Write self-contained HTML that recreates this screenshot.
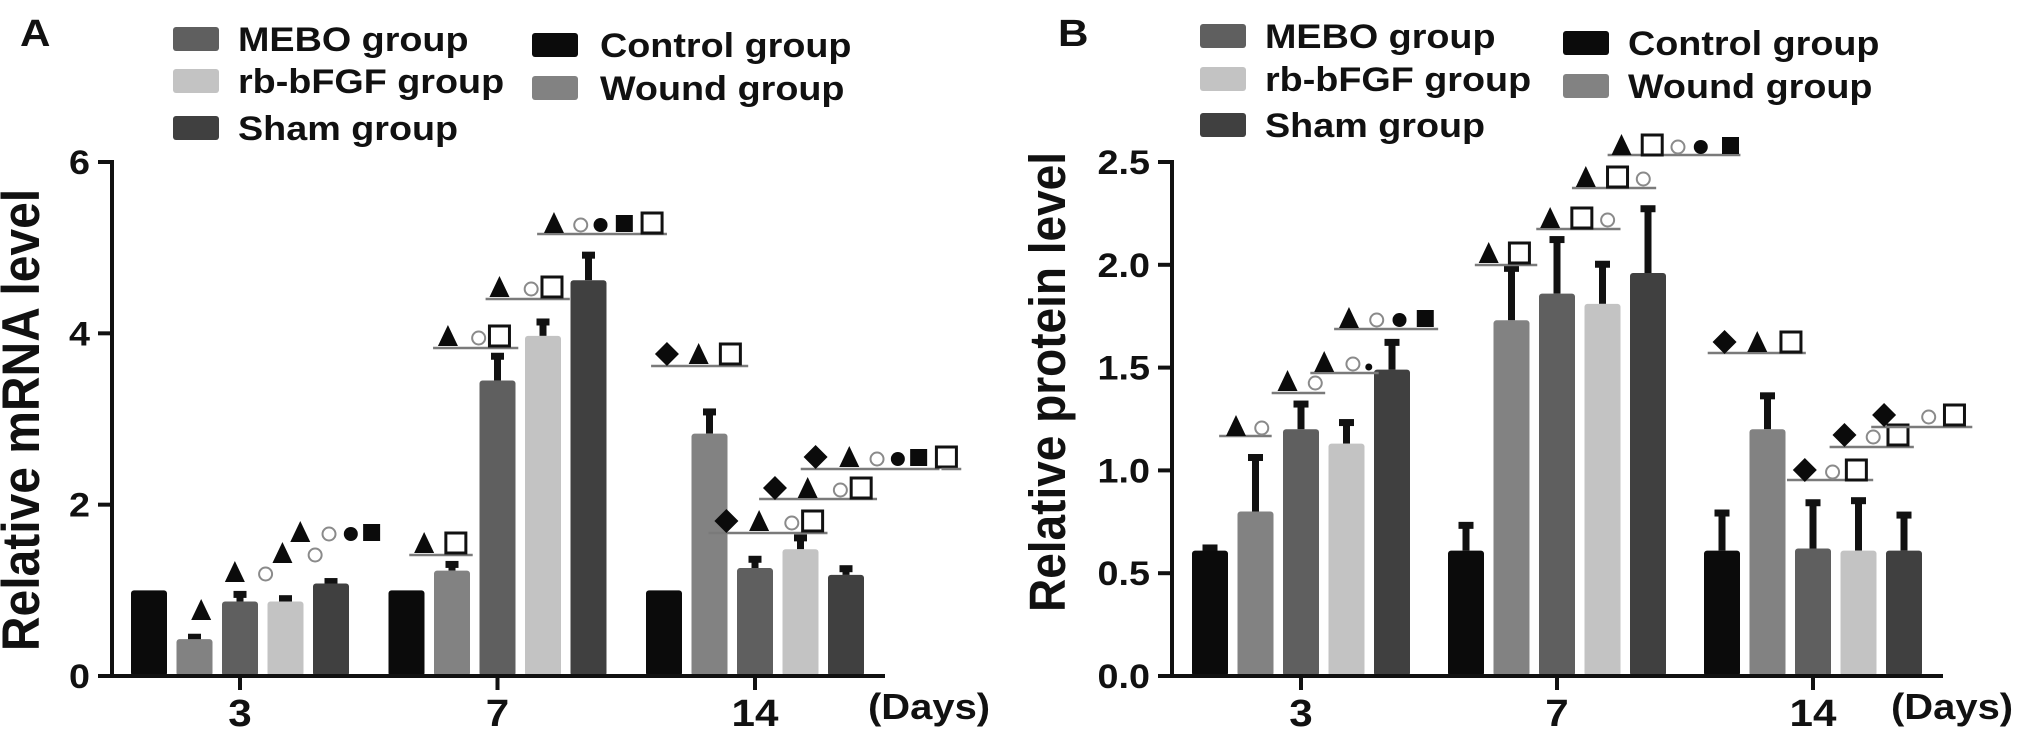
<!DOCTYPE html>
<html><head><meta charset="utf-8"><style>
html,body{margin:0;padding:0;background:#fff;}
svg{display:block;font-family:"Liberation Sans",Arial,sans-serif;font-weight:bold;}
</style></head><body>
<svg id="fig" width="2031" height="748" viewBox="0 0 2031 748" xmlns="http://www.w3.org/2000/svg"></svg>
<script>
// ---------- data ----------
const categories = ['3','7','14'];
const seriesNames = ['Control group','Wound group','MEBO group','rb-bFGF group','Sham group'];
// Panel A: relative mRNA level
const controlA = [1.0, 1.0, 1.0];
const woundA   = [0.43, 1.23, 2.83];
const meboA    = [0.87, 3.45, 1.26];
const rbA      = [0.87, 3.97, 1.48];
const shamA    = [1.08, 4.62, 1.18];
const controlAErr = [0, 0, 0];
const woundAErr   = [0.04, 0.09, 0.27];
const meboAErr    = [0.10, 0.30, 0.12];
const rbAErr      = [0.05, 0.18, 0.15];
const shamAErr    = [0.04, 0.31, 0.09];
const yTicksA = ['0','2','4','6'];
// Panel B: relative protein level
const controlB = [0.61, 0.61, 0.61];
const woundB   = [0.80, 1.73, 1.20];
const meboB    = [1.20, 1.86, 0.62];
const rbB      = [1.13, 1.81, 0.61];
const shamB    = [1.49, 1.96, 0.61];
const controlBErr = [0.02, 0.13, 0.19];
const woundBErr   = [0.27, 0.26, 0.17];
const meboBErr    = [0.13, 0.27, 0.23];
const rbBErr      = [0.11, 0.20, 0.25];
const shamBErr    = [0.14, 0.32, 0.18];
const yTicksB = ['0.0','0.5','1.0','1.5','2.0','2.5'];

const colors = ['#0b0b0b','#828282','#5f5f5f','#c3c3c3','#404040'];
const NS = 'http://www.w3.org/2000/svg';
const svg = document.getElementById('fig');
const SX = 1.11;

function mk(tag, attrs, parent){
  const e = document.createElementNS(NS, tag);
  for (const k in attrs) e.setAttribute(k, attrs[k]);
  (parent||svg).appendChild(e);
  return e;
}
function txt(str, x, y, size, anchor, name, rot){
  const t = mk('text', {transform: rot ? `translate(${x},${y}) scale(${SX},1) rotate(-90)` : `translate(${x},${y}) scale(${SX},1)`, 'font-size': size, 'text-anchor': anchor||'start', fill:'#111'});
  
  
  t.textContent = str;
  return t;
}

function panel(cfg){
  const g = mk('g', {});
  
  
  const yS = v => cfg.y0 - v * (cfg.y0 - cfg.yTop) / cfg.yMax;
  const xS = i => cfg.x3 + i * cfg.gap;
  const series = cfg.series, errs = cfg.errs;
  for (let s = 0; s < series.length; s++){
    for (let i = 0; i < categories.length; i++){
      const cx = xS(i) + (s - 2) * 45.5;
      const v = series[s][i], e = errs[s][i];
      if (e > 0){
        const eb = mk('g', {}, g);
        
        
        mk('rect', {x: cx - 3.5, y: yS(v + e), width: 7, height: yS(v) - yS(v + e), fill:'#111'}, eb);
        mk('rect', {x: cx - cfg.cap/2, y: yS(v + e) - 2, width: cfg.cap, height: 7, fill:'#111'}, eb);
      }
      const r = mk('rect', {x: cx - 18, y: yS(v), width: 36, height: cfg.y0 - yS(v), rx: 3, fill: colors[s]}, g);
      
      
    }
  }
  const ya = mk('line', {x1: cfg.ax, y1: cfg.yTop - 2, x2: cfg.ax, y2: cfg.y0 + 2, stroke:'#111', 'stroke-width': 4}, g);
  
  
  const xa = mk('line', {x1: cfg.ax - 2, y1: cfg.y0, x2: cfg.axEnd, y2: cfg.y0, stroke:'#111', 'stroke-width': 4}, g);
  
  
  cfg.ticks.forEach((lab, k) => {
    const v = k * cfg.yMax / (cfg.ticks.length - 1);
    const tk = mk('line', {x1: cfg.ax - 14, y1: yS(v), x2: cfg.ax, y2: yS(v), stroke:'#111', 'stroke-width': 4}, g);
    
    
    txt(lab, cfg.ax - 22, yS(v) + 12, 34, 'end', 'y-tick-label');
  });
  categories.forEach((c, i) => {
    const tk = mk('line', {x1: xS(i), y1: cfg.y0, x2: xS(i), y2: cfg.y0 + 14, stroke:'#111', 'stroke-width': 4}, g);
    
    
    txt(c, xS(i), 726, 38, 'middle', 'x-tick-label');
  });
  txt('(Days)', cfg.daysX, 719, 36, 'start', 'x-axis-unit');
  txt(cfg.title, cfg.titleX + 17, cfg.titleY, cfg.titleSize, 'middle', 'y-axis-title', true);
  txt(cfg.letter, cfg.letterX, 46, 38, 'start', 'panel-label');
  const legendRows = [
    {s:2, x: cfg.lx1, tx: cfg.ltx1, y: cfg.rows1[0]},
    {s:3, x: cfg.lx1, tx: cfg.ltx1, y: cfg.rows1[1]},
    {s:4, x: cfg.lx1, tx: cfg.ltx1, y: cfg.rows1[2]},
    {s:0, x: cfg.lx2, tx: cfg.ltx2, y: cfg.rows2[0]},
    {s:1, x: cfg.lx2, tx: cfg.ltx2, y: cfg.rows2[1]},
  ];
  legendRows.forEach(L => {
    const le = mk('g', {}, g);
    
    
    mk('rect', {x: L.x, y: L.y - 12, width: 46, height: 24, rx: 3, fill: colors[L.s]}, le);
    txt(seriesNames[L.s], L.tx, L.y + 12, 34, 'start', 'legend-label');
  });
  cfg.ann.forEach(a => {
    const an = mk('g', {}, g);
    
    
    if (a.line) mk('line', {x1: a.line[0], y1: a.ly, x2: a.line[1], y2: a.ly, stroke:'#7a7a7a', 'stroke-width': 2.5}, an);
    a.sym.forEach((c, k) => sym(an, c, a.xs[k], a.sy));
  });
}

function sym(p, c, x, y){
  if (c === 'T') mk('polygon', {points: `${x-10},${y+10} ${x+10},${y+10} ${x},${y-11}`, fill:'#0b0b0b'}, p);
  else if (c === 'S') mk('rect', {x: x-10, y: y-10, width: 20, height: 20, fill:'none', stroke:'#111', 'stroke-width': 3}, p);
  else if (c === 'o') mk('circle', {cx: x, cy: y + 2, r: 6.5, fill:'none', stroke:'#8a8a8a', 'stroke-width': 2}, p);
  else if (c === 'c') mk('circle', {cx: x, cy: y + 2, r: 7, fill:'#0b0b0b'}, p);
  else if (c === 'd') mk('circle', {cx: x, cy: y + 5, r: 3.5, fill:'#0b0b0b'}, p);
  else if (c === 'F') mk('rect', {x: x-8.5, y: y-8, width: 17, height: 17, fill:'#0b0b0b'}, p);
  else if (c === 'D') mk('polygon', {points: `${x},${y-12} ${x+12},${y} ${x},${y+12} ${x-12},${y}`, fill:'#0b0b0b'}, p);
}

const fa = v => v * 0.991;
const fb = v => 1015 + (v - 1015) * 0.991;
function A(sym, xs, sy, line, ly){ return {sym, xs: xs.map(fa), sy, line: line && line.map(fa), ly}; }
function B(sym, xs, sy, line, ly){ return {sym, xs: xs.map(fb), sy, line: line && line.map(fb), ly}; }

panel({
  name:'panel-a-mrna', letter:'A', letterX: 20,
  series:[controlA, woundA, meboA, rbA, shamA],
  errs:[controlAErr, woundAErr, meboAErr, rbAErr, shamAErr],
  ticks: yTicksA, yMax: 6, y0: 676, yTop: 162, ax: 112, axEnd: 885,
  x3: 240, gap: 257.5, cap: 13, daysX: 868,
  title:'Relative mRNA level', titleX: 22, titleY: 420, titleSize: 48,
  lx1: 173, ltx1: 238, rows1:[39, 81, 128], lx2: 532, ltx2: 600, rows2:[45, 88],
  ann:[
    A(['T'], [203], 610),
    A(['T','o'], [237,268], 572),
    A(['T','o'], [285,318], 553),
    A(['T','o','c','F'], [303,332,354,375], 532),
    A(['T','S'], [428,460], 543, [413,477], 555),
    A(['T','o','S'], [452,483,504], 336, [437,523], 348),
    A(['T','o','S'], [504,536,557], 287, [490,575], 299),
    A(['T','o','c','F','S'], [559,586,606,630,658], 223, [542,673], 234),
    A(['D','T','S'], [673,705,737], 354, [657,755], 366),
    A(['D','T','o','S'], [733,766,799,820], 521, [715,835], 533),
    A(['D','T','o','S'], [782,815,848,869], 488, [766,885], 499),
    A(['D','T','o','c','F','S'], [823,857,885,906,927,955], 457, [808,948], 469),
    A([], [], 0, [950,970], 469),
  ]
});

panel({
  name:'panel-b-protein', letter:'B', letterX: 1058,
  series:[controlB, woundB, meboB, rbB, shamB],
  errs:[controlBErr, woundBErr, meboBErr, rbBErr, shamBErr],
  ticks: yTicksB, yMax: 2.5, y0: 676, yTop: 162, ax: 1172, axEnd: 1943,
  x3: 1301, gap: 256, cap: 15, daysX: 1891,
  title:'Relative protein level', titleX: 1048, titleY: 382, titleSize: 46,
  lx1: 1200, ltx1: 1265, rows1:[36, 79, 125], lx2: 1563, ltx2: 1628, rows2:[43, 86],
  ann:[
    B(['T','o'], [1238,1264], 426, [1221,1274], 436),
    B(['T','o'], [1290,1318], 381, [1274,1328], 393),
    B(['T','o','d'], [1327,1356,1372], 362, [1313,1382], 373),
    B(['T','o','c','F'], [1352,1380,1403,1429], 318, [1337,1442], 329),
    B(['T','S'], [1493,1524], 253, [1479,1542], 265),
    B(['T','S','o'], [1555,1587,1613], 218, [1541,1626], 229),
    B(['T','S','o'], [1591,1623,1649], 177, [1577,1662], 188),
    B(['T','S','o','c','F'], [1627,1658,1684,1707,1737], 145, [1613,1747], 155),
    B(['D','T','S'], [1731,1764,1798], 342, [1714,1813], 353),
    B(['D','o','S'], [1812,1840,1864], 470, [1794,1881], 480),
    B(['D','o','S'], [1852,1881,1906], 435, [1837,1922], 447),
    B(['D','o','S'], [1892,1937,1963], 415, [1879,1981], 427),
  ]
});
</script>
</body></html>
